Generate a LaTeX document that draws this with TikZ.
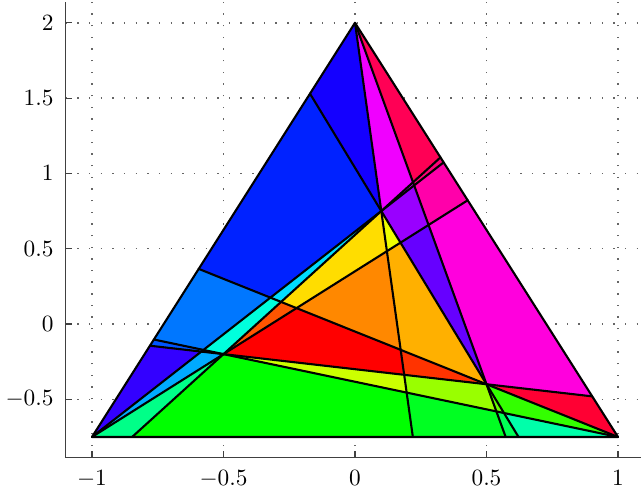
\documentclass[tikz,border=0pt]{standalone}
\usepackage{xcolor}
\usepackage{tikz}
\usetikzlibrary{calc}
\definecolor{cellA}{HTML}{1400FF}
\definecolor{cellB}{HTML}{F000FF}
\definecolor{cellC}{HTML}{CC00FF}
\definecolor{cellD}{HTML}{FF0055}
\definecolor{cellE}{HTML}{FF0077}
\definecolor{cellF}{HTML}{9900FF}
\definecolor{cellG}{HTML}{FF00AA}
\definecolor{cellH}{HTML}{FF00DD}
\definecolor{cellI}{HTML}{6600FF}
\definecolor{cellJ}{HTML}{EEFF00}
\definecolor{cellK}{HTML}{FFB000}
\definecolor{cellL}{HTML}{FFDD00}
\definecolor{cellM}{HTML}{FF8800}
\definecolor{cellN}{HTML}{00DDFF}
\definecolor{cellO}{HTML}{00FFDD}
\definecolor{cellP}{HTML}{00CCFF}
\definecolor{cellQ}{HTML}{00AAFF}
\definecolor{cellR}{HTML}{00FF88}
\definecolor{cellS}{HTML}{00FF00}
\definecolor{cellT}{HTML}{CCFF00}
\definecolor{cellU}{HTML}{FF0000}
\definecolor{cellV}{HTML}{FF5500}
\definecolor{cellW}{HTML}{0022FF}
\definecolor{cellX}{HTML}{0077FF}
\definecolor{cellY}{HTML}{0055FF}
\definecolor{cellZ}{HTML}{3300FF}
\definecolor{cellAA}{HTML}{00FF22}
\definecolor{cellAB}{HTML}{00FF55}
\definecolor{cellAC}{HTML}{00FFAA}
\definecolor{cellAD}{HTML}{99FF00}
\definecolor{cellAE}{HTML}{66FF00}
\definecolor{cellAF}{HTML}{33FF00}
\definecolor{cellAG}{HTML}{FF0033}
\definecolor{cellAH}{HTML}{FF3300}
\tikzset{
    plot grid/.style={black!60, line width=0.6pt, dash pattern=on 0.6pt off 4.4pt},
    plot axis/.style={black!75, line width=0.5pt},
    plot tick/.style={black!75, line width=0.5pt},
    plot label/.style={inner sep=0pt, font=\normalsize},
    plot cut/.style={black, line width=0.9pt, line join=round, line cap=round}
}
\begin{document}
\begin{tikzpicture}[x=3.966cm, y=2.271cm]
\useasboundingbox (-1.3498,-1.1222) rectangle (1.0875,2.1514);

% grid and axes
\foreach \xv in {-1,-0.5,0,0.5,1}
    \draw[plot grid] (\xv,-0.8875) -- (\xv,2.1375);
\foreach \yv in {-0.5,0,0.5,1,1.5,2}
    \draw[plot grid] (-1.1,\yv) -- (1.1,\yv);
\draw[plot axis] (-1.1,2.1375) -- (-1.1,-0.8875) -- (1.1,-0.8875);
\foreach \xv/\xl in {-1/-1,-0.5/-0.5,0/0,0.5/0.5,1/1} {
    \draw[plot tick] (\xv,-0.8875) -- ++(0,0.042);
    \node[plot label, anchor=base] (xl\xv) at (\xv,-1.069) {$\xl$};
}
\foreach \yv/\yl in {-0.5/-0.5,0/0,0.5/0.5,1/1,1.5/1.5,2/2} {
    \draw[plot tick] (-1.1,\yv) -- ++(0.0245,0);
    \node[plot label, anchor=east] (yl\yv) at (-1.1445,\yv) {$\yl$};
}

% corners and inner points
\coordinate (A) at (-1,-0.75);
\coordinate (B) at (1,-0.75);
\coordinate (C) at (0,2);
\coordinate (P) at (0.1,0.75);
\coordinate (Q) at (0.5,-0.4);
\coordinate (R) at (-0.5,-0.2);

% where the cuts meet the sides
\coordinate (E1) at (intersection of P--Q and A--C);
\coordinate (E6) at (intersection of R--Q and A--C);
\coordinate (E7) at (intersection of B--Q and A--C);
\coordinate (E8) at (intersection of B--R and A--C);
\coordinate (F4) at (intersection of A--R and B--C);
\coordinate (F5) at (intersection of A--P and B--C);
\coordinate (F6) at (intersection of R--Q and B--C);
\coordinate (F9) at (intersection of P--R and B--C);
\coordinate (G1) at (intersection of P--Q and A--B);
\coordinate (G2) at (intersection of C--P and A--B);
\coordinate (G3) at (intersection of C--Q and A--B);
\coordinate (G9) at (intersection of P--R and A--B);

% crossings inside
\coordinate (X14) at (intersection of P--Q and A--R);
\coordinate (X18) at (intersection of P--Q and B--R);
\coordinate (X24) at (intersection of C--P and A--R);
\coordinate (X26) at (intersection of C--P and R--Q);
\coordinate (X27) at (intersection of C--P and B--Q);
\coordinate (X28) at (intersection of C--P and B--R);
\coordinate (X34) at (intersection of C--Q and A--R);
\coordinate (X35) at (intersection of C--Q and A--P);
\coordinate (X38) at (intersection of C--Q and B--R);
\coordinate (X39) at (intersection of C--Q and P--R);
\coordinate (X47) at (intersection of A--R and B--Q);
\coordinate (X56) at (intersection of A--P and R--Q);
\coordinate (X57) at (intersection of A--P and B--Q);
\coordinate (X58) at (intersection of A--P and B--R);
\coordinate (X79) at (intersection of B--Q and P--R);

% cells
\fill[cellA] (C) -- (E1) -- (P) -- cycle;
\fill[cellB] (C) -- (P) -- (X39) -- cycle;
\fill[cellC] (P) -- (X39) -- (X35) -- cycle;
\fill[cellD] (C) -- (X39) -- (F9) -- cycle;
\fill[cellE] (X39) -- (X35) -- (F5) -- (F9) -- cycle;
\fill[cellF] (P) -- (X35) -- (X34) -- (X14) -- cycle;
\fill[cellG] (X35) -- (F5) -- (F4) -- (X34) -- cycle;
\fill[cellH] (X34) -- (F4) -- (F6) -- (Q) -- cycle;
\fill[cellI] (X14) -- (X34) -- (Q) -- cycle;
\fill[cellJ] (P) -- (X24) -- (X14) -- cycle;
\fill[cellK] (X24) -- (X14) -- (Q) -- (X27) -- cycle;
\fill[cellL] (P) -- (X24) -- (X47) -- (X79) -- cycle;
\fill[cellM] (X47) -- (X24) -- (X27) -- cycle;
\fill[cellN] (P) -- (X79) -- (X57) -- cycle;
\fill[cellO] (X57) -- (X79) -- (R) -- (X58) -- cycle;
\fill[cellP] (X58) -- (R) -- (X56) -- cycle;
\fill[cellQ] (X56) -- (R) -- (A) -- cycle;
\fill[cellR] (A) -- (R) -- (G9) -- cycle;
\fill[cellS] (R) -- (G9) -- (G2) -- (X28) -- cycle;
\fill[cellT] (R) -- (X28) -- (X26) -- cycle;
\fill[cellU] (R) -- (X26) -- (X27) -- (X47) -- cycle;
\fill[cellV] (R) -- (X47) -- (X79) -- cycle;
\fill[cellW] (E7) -- (E1) -- (P) -- (X57) -- cycle;
\fill[cellX] (E8) -- (E7) -- (X57) -- (X58) -- cycle;
\fill[cellY] (E6) -- (E8) -- (X58) -- (X56) -- cycle;
\fill[cellZ] (A) -- (E6) -- (X56) -- cycle;
\fill[cellAA] (G2) -- (G3) -- (X38) -- (X28) -- cycle;
\fill[cellAB] (G3) -- (G1) -- (X18) -- (X38) -- cycle;
\fill[cellAC] (G1) -- (B) -- (X18) -- cycle;
\fill[cellAD] (X28) -- (X38) -- (Q) -- (X26) -- cycle;
\fill[cellAE] (X38) -- (X18) -- (Q) -- cycle;
\fill[cellAF] (X18) -- (B) -- (Q) -- cycle;
\fill[cellAG] (Q) -- (B) -- (F6) -- cycle;
\fill[cellAH] (X26) -- (Q) -- (X27) -- cycle;

% cuts and outline
\draw[plot cut] (E1) -- (G1);
\draw[plot cut] (C) -- (G2);
\draw[plot cut] (C) -- (G3);
\draw[plot cut] (A) -- (F4);
\draw[plot cut] (A) -- (F5);
\draw[plot cut] (E6) -- (F6);
\draw[plot cut] (E7) -- (B);
\draw[plot cut] (E8) -- (B);
\draw[plot cut] (G9) -- (F9);
\draw[plot cut] (A) -- (B) -- (C) -- cycle;
\end{tikzpicture}
\end{document}
